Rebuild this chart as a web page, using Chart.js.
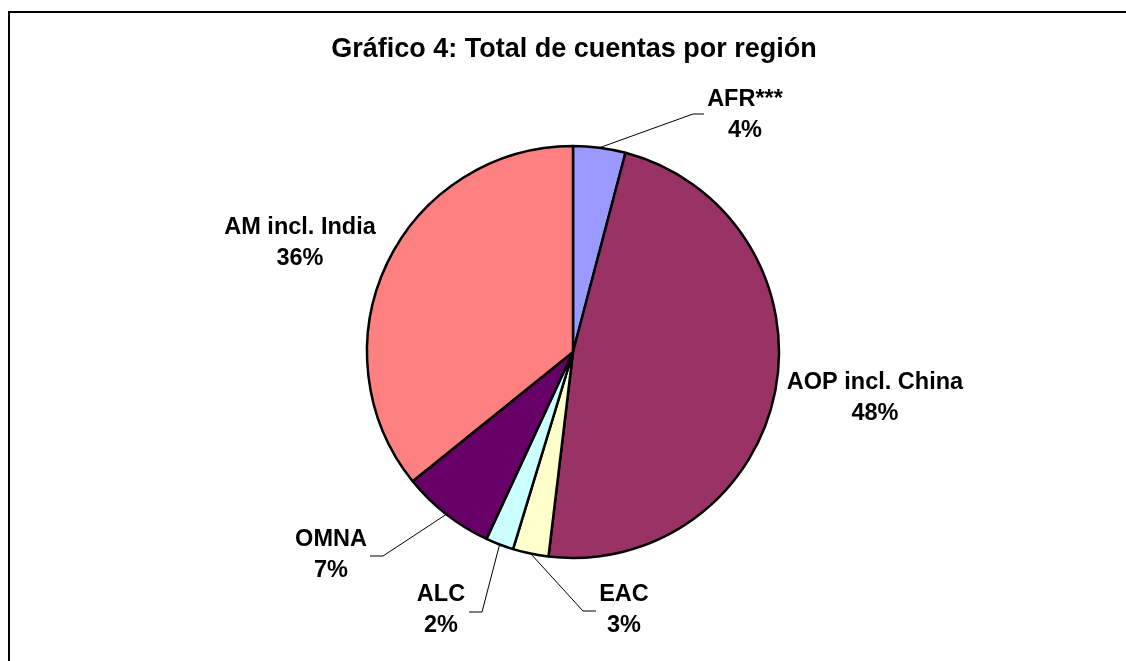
<!DOCTYPE html>
<html>
<head>
<meta charset="utf-8">
<title>Gráfico 4</title>
<script src="https://cdn.jsdelivr.net/npm/chart.js"></script>
<style>
  html, body { margin: 0; padding: 0; background: #fff; }
  #wrap { width: 1126px; height: 661px; }
</style>
</head>
<body>
<div id="wrap"><canvas id="chart-1" width="1126" height="661"></canvas></div>
<script>
// Share of accounts per region (clockwise from 12 o'clock)
const regions = ['AFR***', 'AOP incl. China', 'EAC', 'ALC', 'OMNA', 'AM incl. India'];
const shares = [4.1, 47.8, 2.8, 2.2, 7.3, 35.8];
const sliceColors = ['#9999FF', '#993366', '#FFFFCC', '#CCFFFF', '#660066', '#FF8080'];

// where each label sits and how its leader line bends (null = no leader)
const labelPlaces = [
  { x: 745, y: 100, elbow: [693, 114], end: [704, 114] },
  { x: 875, y: 383, elbow: null },
  { x: 624, y: 595, elbow: [583, 611], end: [596, 611] },
  { x: 441, y: 595, elbow: [482, 612], end: [469, 612] },
  { x: 331, y: 540, elbow: [383, 556], end: [370, 556] },
  { x: 300, y: 228, elbow: null }
];

const FONT = '"Liberation Sans", Arial, Helvetica, sans-serif';

const decorations = {
  id: 'decorations',
  afterDraw(chart) {
    const ctx = chart.ctx;
    ctx.save();

    // outer frame (runs off the right and bottom edges)
    ctx.strokeStyle = '#000';
    ctx.lineWidth = 2;
    ctx.strokeRect(9, 12, 1130, 670);

    // title
    ctx.fillStyle = '#000';
    ctx.textAlign = 'center';
    ctx.textBaseline = 'middle';
    ctx.font = 'bold 27px ' + FONT;
    ctx.fillText('Gráfico 4: Total de cuentas por región', 574, 50);

    const meta = chart.getDatasetMeta(0);
    const total = shares.reduce((a, b) => a + b, 0);

    meta.data.forEach((arc, i) => {
      const p = labelPlaces[i];
      const { x, y, startAngle, endAngle, outerRadius } = arc.getProps(['x', 'y', 'startAngle', 'endAngle', 'outerRadius'], true);
      if (p.elbow) {
        const mid = (startAngle + endAngle) / 2;
        ctx.beginPath();
        ctx.strokeStyle = '#000';
        ctx.lineWidth = 1;
        ctx.moveTo(x + Math.cos(mid) * outerRadius, y + Math.sin(mid) * outerRadius);
        ctx.lineTo(p.elbow[0], p.elbow[1]);
        ctx.lineTo(p.end[0], p.end[1]);
        ctx.stroke();
      }
      ctx.fillStyle = '#000';
      ctx.font = 'bold 23.5px ' + FONT;
      ctx.fillText(regions[i], p.x, p.y);
      ctx.fillText(Math.round(shares[i] / total * 100) + '%', p.x, p.y + 31);
    });

    ctx.restore();
  }
};

new Chart(document.getElementById('chart-1'), {
  type: 'pie',
  data: {
    labels: regions,
    datasets: [{
      data: shares,
      backgroundColor: sliceColors,
      borderColor: '#000',
      borderWidth: 2.5
    }]
  },
  options: {
    responsive: false,
    animation: false,
    radius: 206,
    layout: { padding: { left: 367, right: 347, top: 146, bottom: 103 } },
    plugins: {
      legend: { display: false },
      tooltip: { enabled: false },
      title: { display: false }
    }
  },
  plugins: [decorations]
});
</script>
</body>
</html>
